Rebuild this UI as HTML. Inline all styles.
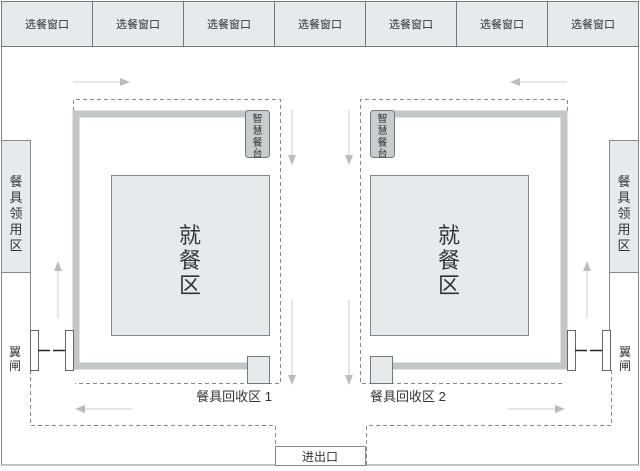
<!DOCTYPE html>
<html><head><meta charset="utf-8"><style>
body{margin:0;background:#fff}
svg text{font-family:"Liberation Sans","Noto Sans CJK SC",sans-serif;fill:#333}
</style></head><body>
<svg width="640" height="466" viewBox="0 0 640 466" xmlns="http://www.w3.org/2000/svg">
<defs>
<marker id="ah" markerWidth="10" markerHeight="8" refX="9" refY="4" orient="auto" markerUnits="userSpaceOnUse">
<path d="M0,0 L10,4 L0,8 Z" fill="#bbb"/></marker>
</defs>
<!-- outer frame -->
<path d="M1.5,46 V465 H275 M365,465 H638.5 V46" fill="none" stroke="#888" stroke-width="1"/>
<!-- top bar -->
<rect x="1.5" y="1.5" width="637" height="45" fill="#e8e9ea" stroke="#777"/>
<g stroke="#777">
<line x1="92.5" y1="1" x2="92.5" y2="46"/><line x1="183.5" y1="1" x2="183.5" y2="46"/>
<line x1="274.5" y1="1" x2="274.5" y2="46"/><line x1="365.5" y1="1" x2="365.5" y2="46"/>
<line x1="456.5" y1="1" x2="456.5" y2="46"/><line x1="547.5" y1="1" x2="547.5" y2="46"/>
</g>
<g font-size="11" text-anchor="middle">
<text x="47" y="28">选餐窗口</text><text x="138" y="28">选餐窗口</text><text x="229" y="28">选餐窗口</text>
<text x="320" y="28">选餐窗口</text><text x="411" y="28">选餐窗口</text><text x="502" y="28">选餐窗口</text>
<text x="593" y="28">选餐窗口</text>
</g>
<!-- side boxes -->
<rect x="1.5" y="140.5" width="29" height="132" fill="#e8e9ea" stroke="#888"/>
<rect x="609.5" y="140.5" width="29" height="132" fill="#e8e9ea" stroke="#888"/>
<g font-size="13" text-anchor="middle">
<text x="16" y="186">餐</text><text x="16" y="202">具</text><text x="16" y="218">领</text><text x="16" y="234">用</text><text x="16" y="250">区</text>
<text x="624" y="186">餐</text><text x="624" y="202">具</text><text x="624" y="218">领</text><text x="624" y="234">用</text><text x="624" y="250">区</text>
</g>
<line x1="30.5" y1="272" x2="30.5" y2="330" stroke="#888"/>
<line x1="609.5" y1="272" x2="609.5" y2="330" stroke="#888"/>
<!-- dashed paths -->
<g fill="none" stroke="#888" stroke-dasharray="4,3">
<path d="M30.5,370 V425.5 H275.5 V446"/>
<path d="M611.5,370 V425.5 H366.5 V465"/>
<path d="M73.5,111 V99.5 H280.5 V383.5 H75"/>
<path d="M567.5,111 V99.5 H360.5 V383.5 H565"/>
</g>
<!-- exit -->
<rect x="275.5" y="446.5" width="90" height="19" fill="#fff" stroke="#888"/>
<text x="320" y="461" font-size="12" text-anchor="middle">进出口</text>
<!-- thick tables -->
<path d="M248,114 H76 V366 H250" fill="none" stroke="#c3c6c7" stroke-width="7"/>
<path d="M392,114 H564 V366 H390" fill="none" stroke="#c3c6c7" stroke-width="7"/>
<!-- dining zones -->
<rect x="111.5" y="175.5" width="158" height="160" fill="#e8e9ea" stroke="#888"/>
<rect x="370.5" y="175.5" width="158" height="160" fill="#e8e9ea" stroke="#888"/>
<g font-size="22" text-anchor="middle">
<text x="190" y="243">就</text><text x="190" y="268">餐</text><text x="190" y="293">区</text>
<text x="449" y="243">就</text><text x="449" y="268">餐</text><text x="449" y="293">区</text>
</g>
<!-- smart tables -->
<rect x="245.5" y="110.5" width="24" height="47" rx="3" fill="#c9cbcc" stroke="#777"/>
<rect x="370.5" y="110.5" width="24" height="47" rx="3" fill="#c9cbcc" stroke="#777"/>
<g font-size="10" text-anchor="middle">
<text x="257.5" y="122">智</text><text x="257.5" y="134">慧</text><text x="257.5" y="146">餐</text><text x="257.5" y="157">台</text>
<text x="382.5" y="122">智</text><text x="382.5" y="134">慧</text><text x="382.5" y="146">餐</text><text x="382.5" y="157">台</text>
</g>
<!-- recycle boxes -->
<rect x="247.5" y="356.5" width="22" height="27" fill="#e8e9ea" stroke="#777"/>
<rect x="370.5" y="356.5" width="22" height="27" fill="#e8e9ea" stroke="#777"/>
<text x="272" y="401" font-size="13" text-anchor="end">餐具回收区 1</text>
<text x="370" y="401" font-size="13">餐具回收区 2</text>
<!-- wing gates -->
<g fill="#fff" stroke="#666">
<rect x="30.5" y="330.5" width="8" height="40"/><rect x="65.5" y="330.5" width="8" height="40"/>
<rect x="567.5" y="330.5" width="8" height="40"/><rect x="602.5" y="330.5" width="8" height="40"/>
</g>
<path d="M38,350.5 H65 M575,350.5 H602" stroke="#222" stroke-width="1.5" stroke-dasharray="12,3"/>
<g font-size="12" text-anchor="middle">
<text x="15" y="356">翼</text><text x="15" y="370">闸</text>
<text x="625" y="356">翼</text><text x="625" y="370">闸</text>
</g>
<!-- arrows -->
<g stroke="#ccc" stroke-width="1" marker-end="url(#ah)">
<line x1="73" y1="82" x2="129" y2="82"/>
<line x1="567" y1="82" x2="511" y2="82"/>
<line x1="292" y1="110" x2="292" y2="164"/>
<line x1="292" y1="300" x2="292" y2="384"/>
<line x1="349" y1="110" x2="349" y2="164"/>
<line x1="349" y1="300" x2="349" y2="384"/>
<line x1="132" y1="409" x2="76" y2="409"/>
<line x1="508" y1="409" x2="564" y2="409"/>
<line x1="58" y1="318" x2="58" y2="262"/>
<line x1="587" y1="318" x2="587" y2="262"/>
</g>
</svg>
</body></html>
